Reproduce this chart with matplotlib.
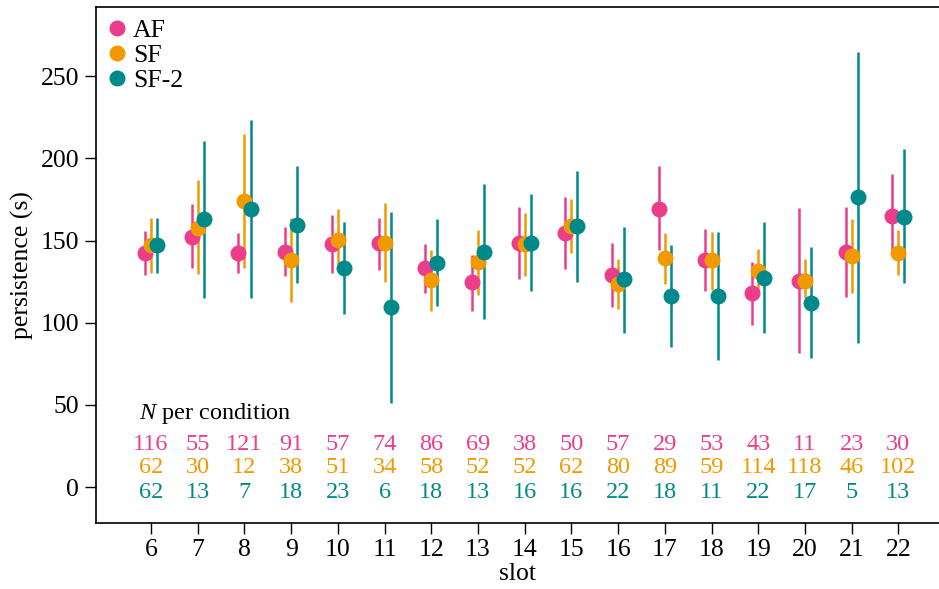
import matplotlib
matplotlib.use("Agg")
import matplotlib.pyplot as plt
import numpy as np

plt.rcParams['font.family'] = ['Liberation Serif', 'DejaVu Serif']
plt.rcParams['mathtext.fontset'] = 'custom'
plt.rcParams['mathtext.it'] = 'Liberation Serif:italic'
plt.rcParams['mathtext.rm'] = 'Liberation Serif'

slots = list(range(6, 23))
groups = ["AF", "SF", "SF-2"]
colors = {"AF": "#EC3D8C", "SF": "#F09A00", "SF-2": "#00898A"}

af_mean = [142.4, 152.3, 142.5, 143.1, 147.6, 148.2, 133.0, 124.5, 148.6, 154.3, 129.0, 169.4, 138.0, 117.8, 125.5, 142.9, 165.2]
af_lo   = [129.0, 133.0, 130.0, 128.3, 130.0, 132.0, 118.2, 107.2, 126.3, 132.4, 109.3, 144.0, 119.2, 98.5, 81.3, 115.8, 144.2]
af_hi   = [156.0, 172.0, 154.7, 158.0, 165.5, 164.0, 147.8, 141.5, 170.5, 176.2, 148.2, 195.3, 156.9, 137.0, 169.7, 170.1, 190.2]

sf_mean = [147.2, 157.7, 174.2, 138.0, 150.2, 148.6, 125.9, 136.7, 147.6, 158.8, 123.3, 139.1, 138.0, 131.6, 125.5, 140.7, 142.7]
sf_lo   = [130.0, 129.4, 133.4, 112.7, 135.6, 124.9, 107.2, 116.8, 128.3, 142.5, 108.1, 123.5, 120.2, 117.8, 114.8, 117.8, 129.0]
sf_hi   = [164.0, 186.7, 214.5, 163.6, 169.1, 172.6, 144.2, 156.3, 166.5, 175.0, 138.5, 154.7, 155.1, 144.8, 138.5, 163.4, 156.3]

sf2_mean = [147.0, 162.8, 168.9, 159.4, 133.4, 109.3, 136.4, 143.1, 148.6, 158.9, 126.3, 116.2, 116.2, 127.3, 112.1, 176.2, 164.4]
sf2_lo   = [130.0, 115.2, 114.8, 123.9, 105.2, 51.3, 110.1, 102.2, 119.2, 124.9, 93.9, 85.0, 77.3, 93.9, 78.3, 87.8, 123.9]
sf2_hi   = [164.0, 210.5, 223.2, 195.5, 161.4, 167.5, 163.0, 184.1, 178.2, 192.4, 158.3, 147.2, 155.1, 161.0, 145.8, 264.4, 205.4]

n_af  = [116, 55, 121, 91, 57, 74, 86, 69, 38, 50, 57, 29, 53, 43, 11, 23, 30]
n_sf  = [62, 30, 12, 38, 51, 34, 58, 52, 52, 62, 80, 89, 59, 114, 118, 46, 102]
n_sf2 = [62, 13, 7, 18, 23, 6, 18, 13, 16, 16, 22, 18, 11, 22, 17, 5, 13]

series = {
    "AF": (af_mean, af_lo, af_hi, n_af),
    "SF": (sf_mean, sf_lo, sf_hi, n_sf),
    "SF-2": (sf2_mean, sf2_lo, sf2_hi, n_sf2),
}
offsets = {"AF": -0.13, "SF": 0.0, "SF-2": 0.13}

fig = plt.figure(figsize=(9.39, 5.89), dpi=100)
ax = fig.add_axes([0.1022, 0.1129, 0.8978, 0.8751])

x = np.array(slots, dtype=float)
for g in groups:
    m, lo, hi, _ = series[g]
    xs = x + offsets[g]
    ax.vlines(xs, lo, hi, color=colors[g], lw=1.8, zorder=2)
    ax.plot(xs, m, 'o', color=colors[g], ms=11.5, mec='none', zorder=3, label=g)

# N per condition
ax.text(5.75, 45, r"$N$ per condition", fontsize=17.5, ha='left', va='center')
row_y = {"AF": 26, "SF": 12, "SF-2": -3}
for g in groups:
    ns = series[g][3]
    for xi, n in zip(slots, ns):
        ax.text(xi, row_y[g], str(n), color=colors[g], fontsize=17.5,
                ha='center', va='center')

ax.set_xlim(4.82, 22.87)
ax.set_ylim(-21.5, 292)
ax.set_xticks(slots)
ax.set_yticks([0, 50, 100, 150, 200, 250])
ax.tick_params(axis='both', direction='out', length=8, width=1, labelsize=18.5, pad=4)
ax.spines['right'].set_visible(False)
for s in ['left', 'bottom', 'top']:
    ax.spines[s].set_linewidth(1.2)

ax.set_xlabel("slot", fontsize=18.5, labelpad=1)
ax.set_ylabel("persistence (s)", fontsize=18.5, labelpad=5)

leg = ax.legend(loc='upper left', frameon=False, fontsize=18.5, handletextpad=0.3,
                borderaxespad=0.2, labelspacing=0.08, markerscale=1.0,
                handlelength=0.7, borderpad=0.25)

fig.savefig("out.png", dpi=100)
